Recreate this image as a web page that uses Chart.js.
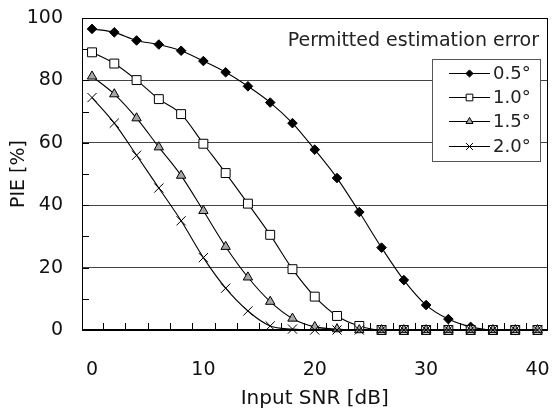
<!DOCTYPE html>
<html>
<head>
<meta charset="utf-8">
<script src="https://cdn.jsdelivr.net/npm/chart.js@4.4.1/dist/chart.umd.min.js"></script>
<style>
  html, body { margin: 0; padding: 0; background: #fff; }
  #wrap { width: 555px; height: 417px; }
</style>
</head>
<body>
<div id="wrap"><canvas id="pieChart"></canvas></div>
<script>
// Input SNR [dB] for every measured point
const snr = [0, 2, 4, 6, 8, 10, 12, 14, 16, 18, 20, 22, 24, 26, 28, 30, 32, 34, 36, 38, 40];

// PIE [%] per permitted estimation error
const pie05 = [96.5, 95.4, 92.8, 91.5, 89.5, 86.2, 82.6, 78.1, 72.9, 66.3, 57.8, 48.7, 37.8, 26.4, 16.0, 8.0, 3.5, 1.0, 0, 0, 0];
const pie10 = [89.0, 85.4, 80.1, 74.0, 69.2, 59.7, 50.3, 40.5, 30.5, 19.5, 10.7, 4.5, 1.3, 0, 0, 0, 0, 0, 0, 0, 0];
const pie15 = [81.3, 75.6, 67.9, 58.6, 49.5, 38.2, 26.7, 16.9, 9.1, 3.7, 1.0, 0.3, 0, 0, 0, 0, 0, 0, 0, 0, 0];
const pie20 = [74.5, 66.3, 56.0, 45.5, 35.0, 23.2, 13.4, 6.1, 1.3, 0.3, 0, 0, 0, 0, 0, 0, 0, 0, 0, 0, 0];

const seriesLabels = ["0.5°", "1.0°", "1.5°", "2.0°"];
const legendTitle = "Permitted estimation error";

// axis ticks
const xTicks = [0, 10, 20, 30, 40];
const yTicks = [0, 20, 40, 60, 80, 100];
const xMinorTicks = [1, 3, 5, 7, 9, 11, 13, 15, 17, 19, 21, 23, 25, 27, 29, 31, 33, 35, 37, 39];
const yMinorTicks = [10, 20, 30, 40, 50, 60, 70, 80, 90];

const toPoints = (values) => snr.map((x, i) => ({ x: x, y: values[i] }));

Chart.defaults.font.family = '"DejaVu Sans", sans-serif';
Chart.defaults.color = "#111";

// frame around the plot + small inward ticks (drawn under the markers)
const frameTicks = {
  id: "frameTicks",
  beforeDatasetsDraw(chart) {
    const { ctx, chartArea: a, scales } = chart;
    const L = Math.round(a.left), R = Math.round(a.right);
    const T = Math.round(a.top), B = Math.round(a.bottom);
    ctx.save();
    ctx.fillStyle = "#000";
    ctx.fillRect(L, T, R - L, 1);      // top
    ctx.fillRect(L, T, 1, B - T);      // left
    ctx.fillRect(R - 1, T, 1, B - T);  // right
    ctx.fillRect(L, B - 1, R - L, 2);  // thick zero line

    xMinorTicks.forEach((v) => {
      const px = Math.round(scales.x.getPixelForValue(v));
      ctx.fillRect(px, B - 7, 1, 7);
    });
    yMinorTicks.forEach((v) => {
      const py = Math.round(scales.y.getPixelForValue(v));
      ctx.fillRect(L, py, 7, 1);
    });
    ctx.restore();
  },
};

// boxed legend inside the plot, with its title above
const boxLegend = {
  id: "boxLegend",
  afterDraw(chart) {
    const ctx = chart.ctx;
    ctx.save();
    ctx.font = '19px "DejaVu Sans"';
    ctx.fillStyle = "#222";
    ctx.textAlign = "right";
    ctx.textBaseline = "middle";
    ctx.fillText(legendTitle, 539, 41);

    ctx.fillStyle = "#fff";
    ctx.fillRect(432, 59, 109, 102);
    ctx.strokeStyle = "#555";
    ctx.lineWidth = 1;
    ctx.strokeRect(432.5, 59.5, 108, 102);

    ctx.font = '18px "DejaVu Sans"';
    ctx.textAlign = "left";
    chart.data.datasets.forEach((ds, i) => {
      const y = Math.round(73 + i * 24.2) + 0.5;
      ctx.strokeStyle = "#000";
      ctx.lineWidth = 1;
      ctx.beginPath();
      ctx.moveTo(449, y);
      ctx.lineTo(490, y);
      ctx.stroke();
      ctx.fillStyle = ds.pointBackgroundColor;
      Chart.helpers.drawPoint(ctx, { pointStyle: ds.pointStyle, radius: ds.pointRadius * 0.75, borderWidth: 1, rotation: 0 }, 469.5, y);
      ctx.fillStyle = "#222";
      ctx.fillText(ds.label, 493, y + 1);
    });
    ctx.restore();
  },
};

function makeSeries(label, values, style, radius, fill, order) {
  return {
    label: label,
    data: toPoints(values),
    borderColor: "#000",
    borderWidth: 1.1,
    pointStyle: style,
    pointRadius: radius,
    pointHoverRadius: radius,
    pointBackgroundColor: fill,
    pointBorderColor: "#000",
    pointBorderWidth: 1,
    cubicInterpolationMode: "monotone",
    clip: false,
    order: order,
  };
}

new Chart(document.getElementById("pieChart"), {
  type: "line",
  data: {
    datasets: [
      makeSeries(seriesLabels[0], pie05, "rectRot", 4.8, "#000", 4),
      makeSeries(seriesLabels[1], pie10, "rect", 6.3, "#fff", 3),
      makeSeries(seriesLabels[2], pie15, "triangle", 5.4, "#a6a6a6", 2),
      makeSeries(seriesLabels[3], pie20, "crossRot", 6.5, "#000", 1),
    ],
  },
  options: {
    responsive: true,
    maintainAspectRatio: false,
    animation: false,
    layout: { padding: { top: 18, right: 4, left: 0, bottom: 0 } },
    plugins: { legend: { display: false }, tooltip: { enabled: false } },
    scales: {
      x: {
        type: "linear",
        min: -0.9,
        max: 40.9,
        afterBuildTicks: (s) => { s.ticks = xTicks.map((v) => ({ value: v })); },
        afterFit: (s) => { s.height = 87; },
        grid: { display: false, drawTicks: true, tickLength: 29, tickColor: "rgba(0,0,0,0)" },
        border: { display: false },
        ticks: { font: { size: 19 }, padding: 0, maxRotation: 0 },
        title: { display: true, text: "Input SNR [dB]", font: { size: 20 }, padding: { top: 0, bottom: 6 } },
      },
      y: {
        min: 0,
        max: 100,
        afterBuildTicks: (s) => { s.ticks = yTicks.map((v) => ({ value: v })); },
        afterFit: (s) => { s.width = 82; },
        grid: { color: "#444", lineWidth: 1, drawTicks: true, tickLength: 19, tickColor: "rgba(0,0,0,0)" },
        border: { display: false },
        ticks: { font: { size: 19 }, padding: 0 },
        title: { display: true, text: "PIE [%]", font: { size: 19 }, padding: { top: 8, bottom: 0 } },
      },
    },
  },
  plugins: [frameTicks, boxLegend],
});
</script>
</body>
</html>
